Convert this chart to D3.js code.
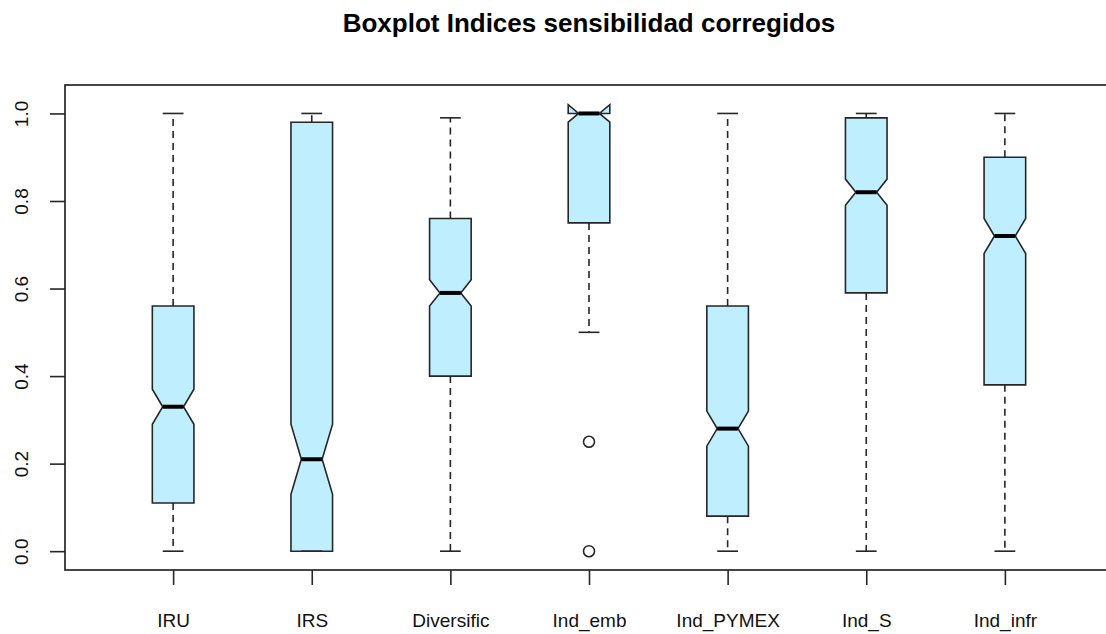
<!DOCTYPE html>
<html>
<head>
<meta charset="utf-8">
<script src="https://cdn.jsdelivr.net/npm/d3@7"></script>
<style>
  body { margin: 0; background: #fff; }
  svg { display: block; font-family: "Liberation Sans", Arial, sans-serif; }
</style>
</head>
<body>
<div id="chart"></div>
<script>
// values
var categories = ["IRU", "IRS", "Diversific", "Ind_emb", "Ind_PYMEX", "Ind_S", "Ind_infr"];
var whiskLo = [0, 0, 0, 0.5, 0, 0, 0];
var q1      = [0.11, 0, 0.40, 0.75, 0.08, 0.59, 0.38];
var medians = [0.33, 0.21, 0.59, 1.0, 0.28, 0.82, 0.72];
var q3      = [0.56, 0.98, 0.76, 1.0, 0.56, 0.99, 0.90];
var whiskHi = [1.0, 1.0, 0.99, 1.0, 1.0, 1.0, 1.0];
var notchLo = [0.29, 0.13, 0.56, 0.98, 0.24, 0.79, 0.68];
var notchHi = [0.37, 0.29, 0.62, 1.02, 0.32, 0.85, 0.76];
var outliers = [[], [], [], [0.25, 0], [], [], []];
var yTicks = [0, 0.2, 0.4, 0.6, 0.8, 1.0];
var title = "Boxplot Indices sensibilidad corregidos";

var W = 1106, H = 634;
var frame = {left: 65, right: 1113, top: 85, bottom: 570};
var ink = "#262626", fill = "#BFEFFF";
var lw = 1.6;

var svg = d3.select("#chart").append("svg")
  .attr("width", W).attr("height", H);

// R style: xlim 0.5..7.5 plus 4%
var x = d3.scaleLinear().domain([0.22, 7.78]).range([frame.left, frame.right]);
var y = d3.scaleLinear().domain([-0.043, 1.065]).range([frame.bottom, frame.top]);
var hw = 20.8; // half box width in px

// title
svg.append("text")
  .attr("x", (frame.left + frame.right) / 2)
  .attr("y", 32)
  .attr("text-anchor", "middle")
  .style("font-size", "26px")
  .style("font-weight", "bold")
  .text(title);

var boxes = svg.append("g");
categories.forEach(function(c, i){
  var cx = x(i + 1);
  var pts = [
    [cx - hw, q1[i]], [cx + hw, q1[i]], [cx + hw, notchLo[i]], [cx + hw / 2, medians[i]],
    [cx + hw, notchHi[i]], [cx + hw, q3[i]], [cx - hw, q3[i]], [cx - hw, notchHi[i]],
    [cx - hw / 2, medians[i]], [cx - hw, notchLo[i]]
  ];
  var g = boxes.append("g").attr("class", "box");
  g.append("polygon")
    .attr("points", pts.map(function(p){ return p[0] + "," + y(p[1]); }).join(" "))
    .style("fill", fill).style("stroke", ink).style("stroke-width", lw)
    .style("stroke-linejoin", "miter");
  // whiskers
  [[q1[i], whiskLo[i]], [q3[i], whiskHi[i]]].forEach(function(w){
    g.append("line")
      .attr("x1", cx).attr("x2", cx)
      .attr("y1", y(w[0])).attr("y2", y(w[1]))
      .style("stroke", ink).style("stroke-width", lw)
      .style("stroke-dasharray", "7,5");
    g.append("line")
      .attr("x1", cx - hw / 2).attr("x2", cx + hw / 2)
      .attr("y1", y(w[1])).attr("y2", y(w[1]))
      .style("stroke", ink).style("stroke-width", lw);
  });
  // median
  g.append("line")
    .attr("x1", cx - hw / 2).attr("x2", cx + hw / 2)
    .attr("y1", y(medians[i])).attr("y2", y(medians[i]))
    .style("stroke", "#000").style("stroke-width", 4);
  g.selectAll("circle").data(outliers[i]).enter().append("circle")
    .attr("cx", cx).attr("cy", function(d){ return y(d); })
    .attr("r", 5.5)
    .style("fill", "none").style("stroke", ink).style("stroke-width", lw);
});

// frame
svg.append("rect")
  .attr("x", frame.left).attr("y", frame.top)
  .attr("width", frame.right - frame.left).attr("height", frame.bottom - frame.top)
  .style("fill", "none").style("stroke", ink).style("stroke-width", 1.7);

// y axis
var yAxis = svg.append("g").attr("transform", "translate(" + frame.left + ",0)")
  .call(d3.axisLeft(y).tickValues(yTicks).tickSize(15).tickFormat(d3.format(".1f")));
yAxis.select(".domain").remove();
yAxis.selectAll(".tick line").style("stroke", ink).style("stroke-width", lw);
yAxis.selectAll(".tick text")
  .attr("transform", "translate(-37,0) rotate(-90)")
  .attr("x", 0).attr("dy", 0).attr("y", 0)
  .style("text-anchor", "middle")
  .style("font-size", "19px").style("fill", "#111")
  .style("font-family", "'Liberation Sans', Arial, sans-serif");

// x axis
var xAxis = svg.append("g").attr("transform", "translate(0," + frame.bottom + ")")
  .call(d3.axisBottom(x).tickValues(d3.range(1, categories.length + 1)).tickSize(15)
    .tickFormat(function(d){ return categories[d - 1]; }));
xAxis.select(".domain").remove();
xAxis.selectAll(".tick line").style("stroke", ink).style("stroke-width", lw);
xAxis.selectAll(".tick text")
  .attr("y", 57).attr("dy", 0)
  .style("font-size", "19px").style("fill", "#111")
  .style("font-family", "'Liberation Sans', Arial, sans-serif");
</script>
</body>
</html>
